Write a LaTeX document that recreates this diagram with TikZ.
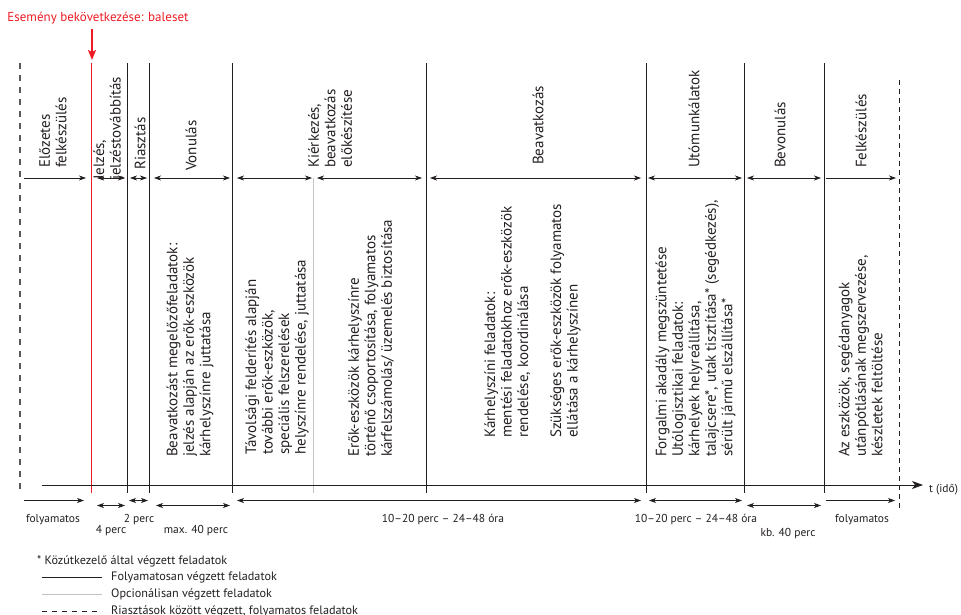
\documentclass[tikz,border=0pt]{standalone}
\usepackage{fontspec}
\setmainfont{PT Sans}
\usetikzlibrary{arrows.meta}
\definecolor{ink}{RGB}{35,31,32}
\definecolor{evred}{RGB}{237,28,36}
\definecolor{optgray}{RGB}{195,195,195}
\definecolor{dashgray}{RGB}{90,90,90}
\begin{document}
\begin{tikzpicture}[x=1pt,y=-1pt,
  phase/.style={draw=ink, line width=0.8pt},
  tip/.tip={Stealth[length=7pt,width=5pt,inset=2pt]},
  dur/.style={draw=ink, line width=0.7pt, tip-tip},
  fwd/.style={draw=ink, line width=0.7pt, -tip},
  vlab/.style={rotate=90, anchor=west, align=left, inner sep=0pt, text=ink, font=\fontsize{15}{16.5}\selectfont},
  lab/.style={inner sep=0pt, text=ink, font=\fontsize{11.5}{13}\selectfont},
  leg/.style={inner sep=0pt, anchor=west, text=ink, font=\fontsize{12.2}{13}\selectfont}]
\useasboundingbox (0,0) rectangle (961,615);
% vertical phase boundaries
\coordinate (l0t) at (20,63);  \coordinate (l0b) at (20,493);
\coordinate (evt) at (91.5,63); \coordinate (evb) at (91.5,493);
\coordinate (l1t) at (127,63); \coordinate (l1b) at (127,493);
\coordinate (l2t) at (149,63); \coordinate (l2b) at (149,493);
\coordinate (l3t) at (232,63); \coordinate (l3b) at (232,493);
\coordinate (g1t) at (313.5,178); \coordinate (g1b) at (313.5,493);
\coordinate (l4t) at (426,63); \coordinate (l4b) at (426,493);
\coordinate (l5t) at (646,63); \coordinate (l5b) at (646,493);
\coordinate (l6t) at (744,63); \coordinate (l6b) at (744,493);
\coordinate (l7t) at (824,63); \coordinate (l7b) at (824,493);
\coordinate (l8t) at (899,80); \coordinate (l8b) at (899,508);
\draw[dashgray, line width=1.3pt, dash pattern=on 6pt off 6pt] (l0t) -- (l0b);
\draw[evred, line width=1.4pt] (evt) -- (evb);
\foreach \n in {l1,l2,l3,l4,l5,l6,l7} \draw[phase] (\n t) -- (\n b);
\draw[optgray, line width=0.9pt] (g1t) -- (g1b);
\draw[ink, line width=0.8pt, dash pattern=on 5pt off 4pt] (l8t) -- (l8b);
% event title and arrow
\node[inner sep=0pt, text=evred, font=\fontsize{13}{15}\selectfont] (title) at (98,18) {Esemény bekövetkezése: baleset};
\coordinate (ra) at (92,29); \coordinate (rb) at (92,60);
\draw[evred, line width=1.6pt, -{Stealth[length=10pt,width=8pt,inset=2pt]}] (ra) -- (rb);
% time axis
\coordinate (ax0) at (42,485); \coordinate (ax1) at (923,485);
\draw[ink, line width=0.8pt, -{Stealth[length=11pt,width=8pt,inset=3pt]}] (ax0) -- (ax1);
\node[lab, anchor=west] (tido) at (929,490) {t (idő)};
% upper phase arrows
\draw[fwd] (24,178) coordinate (u0a) -- (86,178) coordinate (u0b);
\draw[dur] (97,178) coordinate (u1a) -- (125,178) coordinate (u1b);
\draw[dur] (130,178) coordinate (u2a) -- (147,178) coordinate (u2b);
\draw[dur] (154,178) coordinate (u3a) -- (230,178) coordinate (u3b);
\draw[dur] (237,178) coordinate (u4a) -- (312,178) coordinate (u4b);
\draw[dur] (317,178) coordinate (u5a) -- (422,178) coordinate (u5b);
\draw[dur] (430,178) coordinate (u6a) -- (641,178) coordinate (u6b);
\draw[dur] (648,178) coordinate (u7a) -- (742,178) coordinate (u7b);
\draw[dur] (747,178) coordinate (u8a) -- (821,178) coordinate (u8b);
\draw[fwd] (826,178) coordinate (u9a) -- (896,178) coordinate (u9b);
% lower duration arrows
\draw[fwd] (24,500.5) coordinate (d0a) -- (84,500.5) coordinate (d0b);
\draw[dur] (97,505.5) coordinate (d1a) -- (125,505.5) coordinate (d1b);
\draw[dur] (129,500.5) coordinate (d2a) -- (148,500.5) coordinate (d2b);
\draw[dur] (156,505.5) coordinate (d3a) -- (230,505.5) coordinate (d3b);
\draw[dur] (237,500.5) coordinate (d4a) -- (641,500.5) coordinate (d4b);
\draw[dur] (649,500.5) coordinate (d5a) -- (742,500.5) coordinate (d5b);
\draw[dur] (747,505.5) coordinate (d6a) -- (821,505.5) coordinate (d6b);
\draw[fwd] (826,500.5) coordinate (d7a) -- (895,500.5) coordinate (d7b);
% duration labels
\node[lab] (t0) at (53,520) {folyamatos};
\node[lab] (t2) at (139,520) {2 perc};
\node[lab] (t1) at (111,531) {4 perc};
\node[lab] (t3) at (196,531) {max. 40 perc};
\node[lab] (t4) at (443,520) {10–20 perc – 24–48 óra};
\node[lab] (t5) at (696,520) {10–20 perc – 24–48 óra};
\node[lab] (t6) at (788,534) {kb. 40 perc};
\node[lab] (t7) at (862,520) {folyamatos};
% upper phase names
\node[vlab] (p0) at (53,168) {Előzetes\\felkészülés};
\node[vlab] (p1) at (108.5,180) {Jelzés,\\jelzéstovábbítás};
\node[vlab] (p2) at (140,170) {Riasztás};
\node[vlab] (p3) at (191,171) {Vonulás};
\node[vlab] (p4) at (330,168) {Kiérkezés,\\beavatkozás\\előkészítése};
\node[vlab] (p5) at (538,165) {Beavatkozás};
\node[vlab] (p6) at (694,168) {Utómunkálatok};
\node[vlab] (p7) at (780,168) {Bevonulás};
\node[vlab] (p8) at (861,168) {Felkészülés};
% task descriptions
\node[vlab] (q3) at (190,457) {Beavatkozást megelőzőfeladatok:\\jelzés alapján az erők-eszközök\\kárhelyszínre juttatása};
\node[vlab] (q4) at (277,455) {Távolsági felderítés alapján\\további erők-eszközök,\\speciális felszerelések\\helyszínre rendelése, juttatása};
\node[vlab] (q5) at (371,457) {Erők-eszközök kárhelyszínre\\történő csoportosítása, folyamatos\\kárfelszámolás/ üzemelés biztosítása};
\node[vlab] (q6) at (532.5,438) {Kárhelyszíni feladatok:\\mentési feladatokhoz erők-eszközök\\rendelése, koordinálása\\[16.5pt]Szükséges erők-eszközök folyamatos\\ellátása a kárhelyszínen};
\node[vlab] (q7) at (695.5,457) {Forgalmi akadály megszüntetése\\Utólogisztikai feladatok:\\kárhelyek helyreállítása,\\talajcsere*, utak tisztítása* (segédkezés),\\sérült jármű elszállítása*};
\node[vlab] (q8) at (860.5,457) {Az eszközök, segédanyagok\\utánpótlásának megszervezése,\\készletek feltöltése};
% legend
\node[leg] (n0) at (37,561) {* Közútkezelő által végzett feladatok};
\coordinate (k1a) at (42,577); \coordinate (k1b) at (102,577);
\coordinate (k2a) at (42,594); \coordinate (k2b) at (102,594);
\coordinate (k3a) at (42,611); \coordinate (k3b) at (102,611);
\draw[ink, line width=0.8pt] (k1a) -- (k1b);
\draw[optgray, line width=0.9pt] (k2a) -- (k2b);
\draw[ink, line width=0.8pt, dash pattern=on 5pt off 5pt] (k3a) -- (k3b);
\node[leg] (n1) at (111,577) {Folyamatosan végzett feladatok};
\node[leg] (n2) at (111,594) {Opcionálisan végzett feladatok};
\node[leg] (n3) at (111,611) {Riasztások között végzett, folyamatos feladatok};
\end{tikzpicture}
\end{document}
